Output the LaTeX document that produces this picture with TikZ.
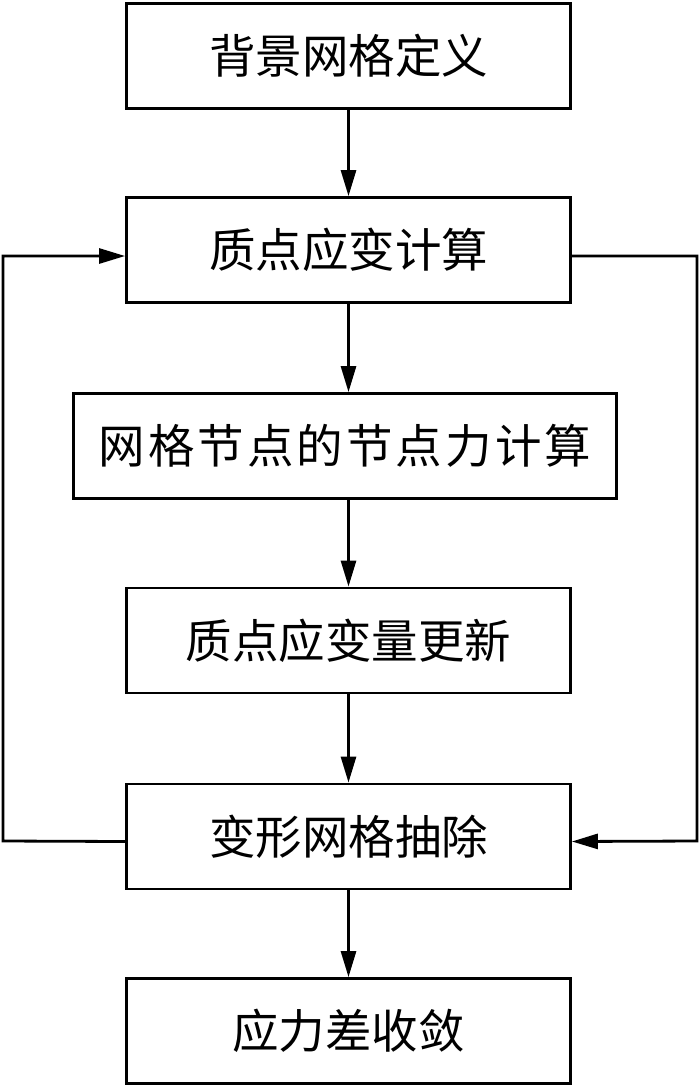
\documentclass[tikz,border=0pt]{standalone}
\usepackage{fontspec}
\newfontfamily\cjk{Noto Sans CJK SC}
\newfontfamily\cjkwide[LetterSpace=6.5]{Noto Sans CJK SC}
\usetikzlibrary{arrows.meta}

\begin{document}
\begin{tikzpicture}[x=1pt, y=-1pt, >={Triangle[length=26pt, width=15pt]}, line width=2.8pt,
    stepbox/.style={draw, minimum width=444pt, minimum height=105pt, inner sep=0pt,
        font=\cjk\fontsize{46.5}{52}\selectfont}]
    % Page frame
    \useasboundingbox (0,0) rectangle (700,1088);

    % Boxes
    \node[stepbox] (grid)   at (348.5,56)   {背景网格定义};
    \node[stepbox] (strain) at (348.5,250)  {质点应变计算};
    \node[stepbox, minimum width=543pt, font=\cjkwide\fontsize{46.5}{52}\selectfont]
        (force) at (345,446) {网格节点的节点力计算};
    \node[stepbox] (update) at (348.5,640.5) {质点应变量更新};
    \node[stepbox] (remove) at (348.5,836.5) {变形网格抽除};
    \node[stepbox] (conv)   at (348.5,1031) {应力差收敛};

    % Main flow
    \draw[->] (grid) -- (strain);
    \draw[->] (strain.south -| grid.south) -- (force.north -| grid.south);
    \draw[->] (force.south -| grid.south) -- (update);
    \draw[->] (update) -- (remove);
    \draw[->] (remove) -- (conv);

    % Feedback loops
    \coordinate (leftIn)  at ([yshift=-6pt]strain.west);
    \coordinate (leftOut) at ([yshift=-5pt]remove.west);
    \coordinate (rightOut) at ([yshift=-6pt]strain.east);
    \coordinate (rightIn)  at ([yshift=-5pt]remove.east);
    \draw[->] (leftOut) -- (3,841) -- (3,256) -- (leftIn);
    \draw[->] (rightOut) -- (697,256) -- (697,841) -- (rightIn);
\end{tikzpicture}
\end{document}
